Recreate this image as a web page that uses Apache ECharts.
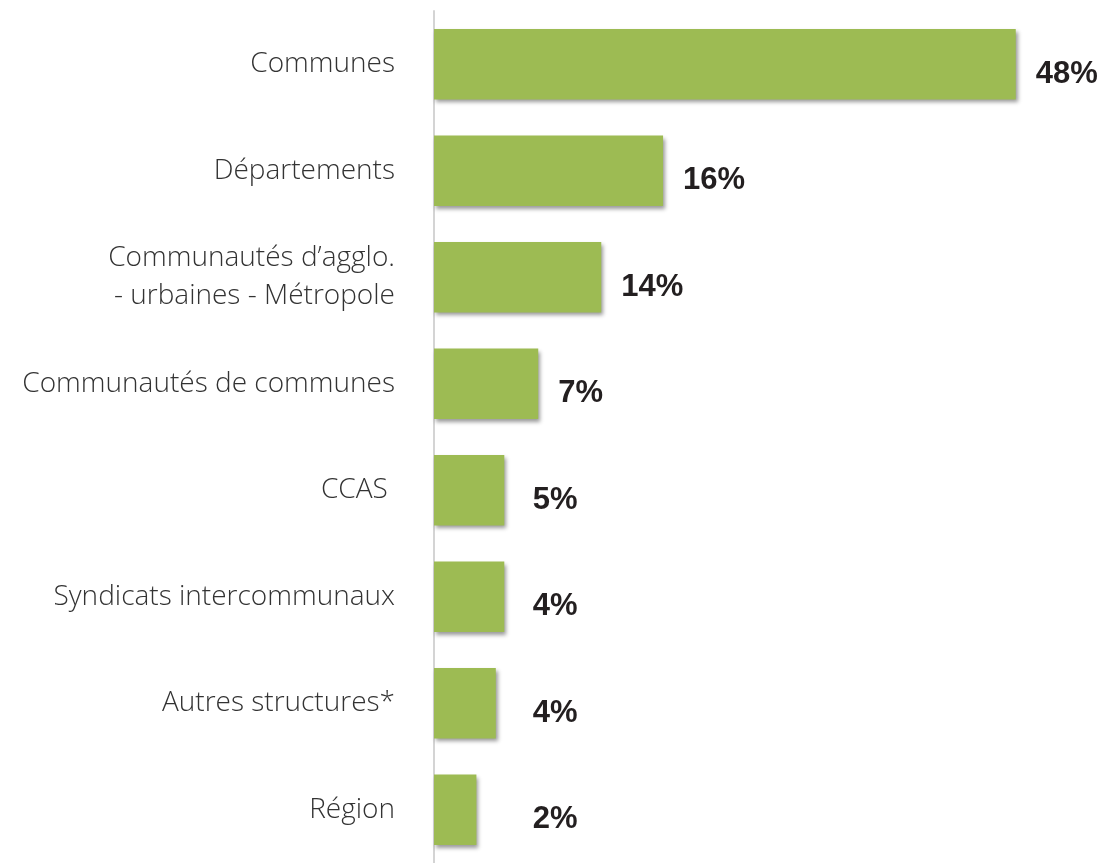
<!DOCTYPE html>
<html>
<head>
<meta charset="utf-8">
<script src="https://cdn.jsdelivr.net/npm/echarts@6/dist/echarts.min.js"></script>
<style>
  html, body { margin: 0; padding: 0; background: #ffffff; }
  #chart { width: 1103px; height: 863px; }
</style>
</head>
<body>
<div id="chart"></div>
<script>
// categories, top to bottom
var categories = [
  'Communes',
  'Départements',
  'Communautés d\u2019agglo.\n- urbaines - Métropole',
  'Communautés de communes',
  'CCAS ',
  'Syndicats intercommunaux',
  'Autres structures*',
  'Région'
]
// bar lengths as drawn in the picture (in %)
var barValues = [48, 18.9, 13.8, 8.6, 5.8, 5.8, 5.1, 3.5]
// printed shares
var shareLabels = ['48%', '16%', '14%', '7%', '5%', '4%', '4%', '2%']

var xMax = 50
var gridLeft = 434
var gridWidth = 606
var pxPerUnit = gridWidth / xMax
var labelMin = 6.5 // short bars get their label pushed out to this value

var myChart = echarts.init(document.getElementById('chart'))
myChart.setOption({
  animation: false,
  backgroundColor: '#ffffff',
  grid: {
    left: gridLeft,
    top: 11,
    width: gridWidth,
    height: 860
  },
  xAxis: {
    type: 'value',
    min: 0,
    max: xMax,
    show: false
  },
  yAxis: {
    type: 'category',
    inverse: true,
    data: categories,
    axisLine: {
      show: true,
      lineStyle: { color: '#d4d4d4', width: 2 }
    },
    axisTick: { show: false },
    axisLabel: {
      margin: 39,
      fontFamily: 'Open Sans',
      fontWeight: 300,
      fontSize: 28,
      lineHeight: 38,
      color: '#333333',
      align: 'right'
    }
  },
  series: [{
    type: 'bar',
    barCategoryGap: '34%',
    itemStyle: {
      color: '#9dbb53',
      shadowColor: 'rgba(0, 0, 0, 0.4)',
      shadowBlur: 4,
      shadowOffsetX: 2,
      shadowOffsetY: 3
    },
    label: {
      show: true,
      position: 'right',
      distance: 20,
      fontFamily: "'Liberation Sans Narrow', 'Liberation Sans', sans-serif",
      fontWeight: 'bold',
      fontSize: 31,
      color: '#231f20',
      formatter: function (p) {
        return shareLabels[p.dataIndex]
      }
    },
    data: barValues.map(function (v) {
      return {
        value: v,
        label: { offset: [Math.max(0, (labelMin - v) * pxPerUnit), 10] }
      }
    })
  }]
})
</script>
</body>
</html>
